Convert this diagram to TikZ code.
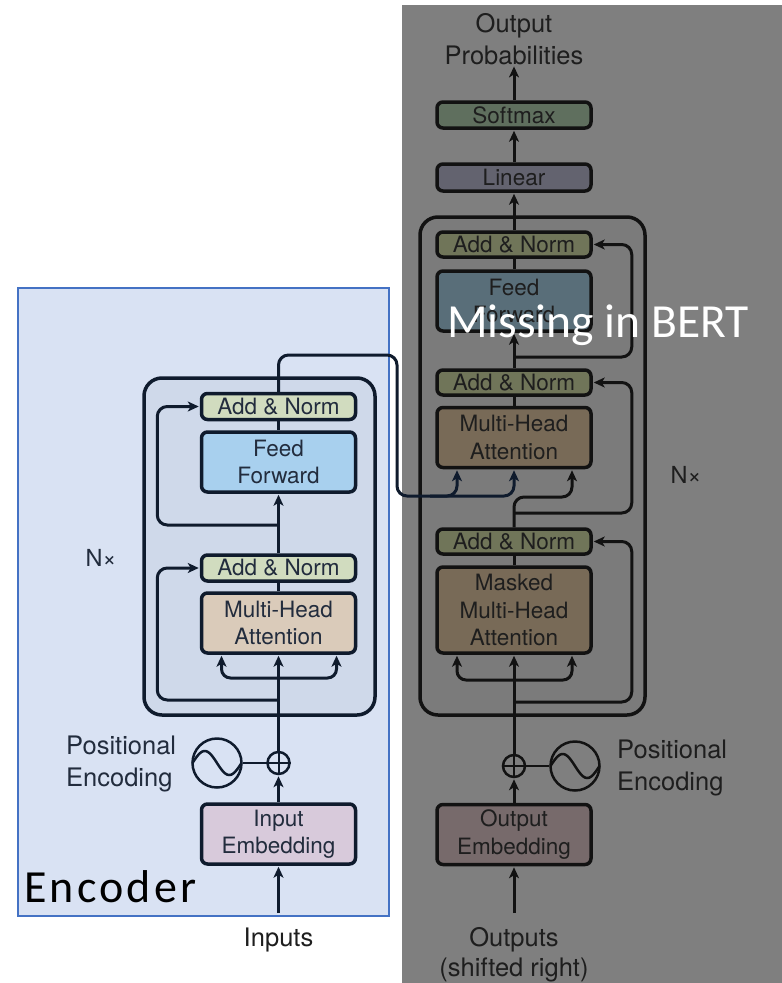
\documentclass[tikz,border=0pt]{standalone}
\usepackage{fontspec}
\setmainfont{TeX Gyre Heros}
\newfontfamily\calibri{Carlito}
\newfontfamily\calibriwide{Carlito}[LetterSpace=7]
\usetikzlibrary{arrows.meta}

% encoder palette
\definecolor{encbg}{HTML}{D9E2F3}
\definecolor{encborder}{HTML}{4472C4}
\definecolor{encouter}{HTML}{CFD9EA}
\definecolor{encline}{HTML}{0F1B2D}
\definecolor{enctext}{HTML}{222C3D}
\definecolor{encan}{HTML}{D1DCBF}
\definecolor{encff}{HTML}{A8D0EE}
\definecolor{encmha}{HTML}{DACBBA}
\definecolor{encemb}{HTML}{D8CADB}
% decoder palette (shaded)
\definecolor{greybg}{HTML}{7F7F7F}
\definecolor{decouter}{HTML}{7B7B7B}
\definecolor{decline}{HTML}{121212}
\definecolor{dectext}{HTML}{1E1E1E}
\definecolor{decsoft}{HTML}{5F6F5E}
\definecolor{declin}{HTML}{63636F}
\definecolor{decan}{HTML}{707559}
\definecolor{decff}{HTML}{596E79}
\definecolor{decmha}{HTML}{786A57}
\definecolor{decemb}{HTML}{776A6B}

\newcommand\diafont{\fontsize{22.5}{27.5}\selectfont}
\newcommand\lblfont{\fontsize{25.5}{32}\selectfont}

\tikzset{
  blockbox/.style={line width=3.5pt, rounded corners=6pt, inner sep=0pt,
    align=center, font=\diafont, minimum width=154pt},
  encbox/.style={blockbox, draw=encline, text=enctext},
  decbox/.style={blockbox, draw=decline, text=dectext},
  flow/.style={line width=3pt, shorten >=1pt,
    -{Stealth[length=11pt,width=10pt,inset=3pt]}},
  plainline/.style={line width=3pt},
  stackbox/.style={line width=3.5pt, rounded corners=18pt},
  addcirc/.style={circle, line width=2.5pt, minimum size=22pt, inner sep=0pt},
  pecirc/.style={circle, line width=2.5pt, minimum size=49pt, inner sep=0pt},
  lbl/.style={font=\lblfont, align=center, inner sep=0pt},
}

\begin{document}
\begin{tikzpicture}[x=1pt,y=-1pt]
\useasboundingbox (0,0) rectangle (782,983);
\fill[white] (0,0) rectangle (782,983);

% shaded decoder side and highlighted encoder side
\fill[greybg] (402,5) rectangle (782,983);
\draw[encborder, line width=2pt, fill=encbg] (18,288) rectangle (389,916);

% N x stacks
\draw[stackbox, draw=encline, fill=encouter] (144,378) rectangle (375,715);
\draw[stackbox, draw=decline, fill=decouter] (420,217) rectangle (645,715);

% ---------------- encoder blocks ----------------
\node[encbox, fill=encan,  minimum height=26pt] (eAN2) at (278.5,406.5) {Add \& Norm};
\node[encbox, fill=encff,  minimum height=60pt] (eFF)  at (278.5,462)   {Feed\\Forward};
\node[encbox, fill=encan,  minimum height=26pt] (eAN1) at (278.5,568)   {Add \& Norm};
\node[encbox, fill=encmha, minimum height=60pt] (eMHA) at (278.5,623)   {Multi-Head\\Attention};
\node[encbox, fill=encemb, minimum height=60pt] (eEmb) at (278.5,834)   {Input\\Embedding};
\node[addcirc, draw=encline] (eAdd) at (278.5,763) {};
\draw[encline, line width=2pt] (eAdd.north) -- (eAdd.south) (eAdd.west) -- (eAdd.east);
\node[pecirc, draw=encline] (ePE) at (217,763) {};
\draw[encline, line width=2.5pt] plot[domain=0:360, samples=60, smooth]
  ({192.5+\x/360*49}, {763-12*sin(\x)});

% ---------------- decoder blocks ----------------
\node[decbox, fill=decsoft, minimum height=26pt] (dSoft) at (514,115)   {Softmax};
\node[decbox, fill=declin,  minimum height=27pt] (dLin)  at (514,177.5) {Linear};
\node[decbox, fill=decan,   minimum height=25pt] (dAN3)  at (514,244.5) {Add \& Norm};
\node[decbox, fill=decff,   minimum height=60pt] (dFF)   at (514,301)   {Feed\\Forward};
\node[decbox, fill=decan,   minimum height=25pt] (dAN2)  at (514,382.5) {Add \& Norm};
\node[decbox, fill=decmha,  minimum height=60pt] (dMHA)  at (514,437.5) {Multi-Head\\Attention};
\node[decbox, fill=decan,   minimum height=25pt] (dAN1)  at (514,541.5) {Add \& Norm};
\node[decbox, fill=decmha,  minimum height=86pt] (dMMHA) at (514,610)   {Masked\\Multi-Head\\Attention};
\node[decbox, fill=decemb,  minimum height=60pt] (dEmb)  at (514,834.5) {Output\\Embedding};
\node[addcirc, draw=decline] (dAdd) at (514,766) {};
\draw[decline, line width=2pt] (dAdd.north) -- (dAdd.south) (dAdd.west) -- (dAdd.east);
\node[pecirc, draw=decline] (dPE) at (575,766) {};
\draw[decline, line width=2.5pt] plot[domain=0:360, samples=60, smooth]
  ({550.5+\x/360*49}, {766-12*sin(\x)});

% ---------------- labels ----------------
\node[lbl, text=enctext, align=left, anchor=west] (ePEtxt) at (66,763.5) {Positional\\Encoding};
\node[lbl, text=dectext, align=left, anchor=west] (dPEtxt) at (617,767.5) {Positional\\Encoding};
\node[lbl, text=enctext, font=\fontsize{23.5}{28}\selectfont] (eN) at (101,558) {N×};
\node[lbl, text=dectext, font=\fontsize{23.5}{28}\selectfont] (dN) at (686,475) {N×};
\node[lbl, text=dectext, anchor=base] (inTxt) at (278.5,946) {Inputs};
\node[lbl, text=dectext, font=\fontsize{25.5}{30}\selectfont] (outTxt) at (514,955) {Outputs\\(shifted right)};
\node[lbl, text=dectext] (probTxt) at (514,39.5) {Output\\Probabilities};

% ---------------- encoder connectors ----------------
\coordinate (eIn) at (278.5,913);
\draw[flow, encline] (eIn) -- (eEmb.south);
\draw[flow, encline] (eEmb.north) -- (eAdd.south);
\draw[encline, line width=2.5pt] (ePE.east) -- (eAdd.west);
\draw[flow, encline] (eAdd.north) -- (eMHA.south);
\coordinate (eSplit) at (278.5,678);
\draw[flow, encline, rounded corners=9pt] (eSplit) -| ([xshift=-57pt]eMHA.south);
\draw[flow, encline, rounded corners=9pt] (eSplit) -| ([xshift=58pt]eMHA.south);
\coordinate (eRes1) at (278.5,700);
\draw[flow, encline, rounded corners=10pt] (eRes1) -| ([xshift=-42.5pt]eAN1.west) -- (eAN1.west);
\draw[plainline, encline] (eMHA.north) -- (eAN1.south);
\draw[flow, encline] (eAN1.north) -- (eFF.south);
\coordinate (eRes2) at (278.5,525);
\draw[flow, encline, rounded corners=10pt] (eRes2) -| ([xshift=-42.5pt]eAN2.west) -- (eAN2.west);
\draw[plainline, encline] (eFF.north) -- (eAN2.south);

% encoder output into the decoder attention
\coordinate (xTop) at (397,355);
\coordinate (xLow) at (397,496);
\coordinate (xKV) at (430,496);
\draw[flow, encline, rounded corners=10pt] (eAN2.north) |- (xTop) -- (xLow) -| ([xshift=-57pt]dMHA.south);
\draw[flow, encline, rounded corners=10pt] (xKV) -| (dMHA.south);

% ---------------- decoder connectors ----------------
\coordinate (dIn) at (514,913);
\draw[flow, decline] (dIn) -- (dEmb.south);
\draw[flow, decline] (dEmb.north) -- (dAdd.south);
\draw[decline, line width=2.5pt] (dAdd.east) -- (dPE.west);
\draw[flow, decline] (dAdd.north) -- (dMMHA.south);
\coordinate (dSplit) at (514,680);
\draw[flow, decline, rounded corners=9pt] (dSplit) -| ([xshift=-57pt]dMMHA.south);
\draw[flow, decline, rounded corners=9pt] (dSplit) -| ([xshift=58pt]dMMHA.south);
\coordinate (dRes1) at (514,702);
\draw[flow, decline, rounded corners=10pt] (dRes1) -| ([xshift=39pt]dAN1.east) -- (dAN1.east);
\draw[plainline, decline] (dMMHA.north) -- (dAN1.south);
\coordinate (dQ) at (572,497);
\draw[flow, decline, rounded corners=10pt] (dAN1.north) |- (dQ) -- ([xshift=58pt]dMHA.south);
\coordinate (dRes2) at (514,513);
\draw[flow, decline, rounded corners=10pt] (dRes2) -| ([xshift=39pt]dAN2.east) -- (dAN2.east);
\draw[plainline, decline] (dMHA.north) -- (dAN2.south);
\draw[flow, decline] (dAN2.north) -- (dFF.south);
\coordinate (dRes3) at (514,357);
\draw[flow, decline, rounded corners=10pt] (dRes3) -| ([xshift=39pt]dAN3.east) -- (dAN3.east);
\draw[plainline, decline] (dFF.north) -- (dAN3.south);
\draw[flow, decline] (dAN3.north) -- (dLin.south);
\draw[flow, decline] (dLin.north) -- (dSoft.south);
\draw[flow, decline] (dSoft.north) -- (probTxt.south);

% ---------------- captions ----------------
\node[font=\calibriwide\fontsize{46}{50}\selectfont, anchor=base west, inner sep=0pt] (encTitle) at (24,902) {Encoder};
\node[font=\calibri\fontsize{47.5}{50}\selectfont, text=white, anchor=base, inner sep=0pt] (bertNote) at (598,337) {Missing in BERT};
\end{tikzpicture}
\end{document}
